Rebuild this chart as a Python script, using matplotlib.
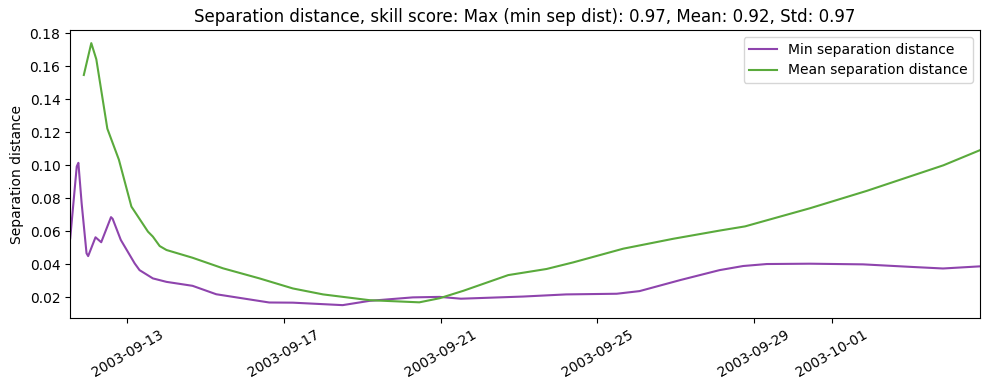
import pandas as pd
import numpy as np
import matplotlib
matplotlib.use("Agg")
import matplotlib.pyplot as plt
import matplotlib.dates as mdates

# min separation distance
min_times = [
    "2003-09-11 13:00", "2003-09-11 17:00", "2003-09-11 18:00", "2003-09-11 20:00",
    "2003-09-11 23:00", "2003-09-12 00:00", "2003-09-12 04:30", "2003-09-12 08:00",
    "2003-09-12 14:00", "2003-09-12 15:00", "2003-09-12 20:00", "2003-09-13 04:30",
    "2003-09-13 07:30", "2003-09-13 15:40", "2003-09-14 00:00", "2003-09-14 16:00",
    "2003-09-15 06:30", "2003-09-16 15:00", "2003-09-17 05:30", "2003-09-18 12:00",
    "2003-09-19 04:30", "2003-09-20 07:00", "2003-09-20 23:30", "2003-09-21 12:30",
    "2003-09-23 02:30", "2003-09-24 05:00", "2003-09-25 12:00", "2003-09-26 02:00",
    "2003-09-27 03:00", "2003-09-28 03:00", "2003-09-28 17:30", "2003-09-29 08:00",
    "2003-09-30 10:30", "2003-10-01 19:00", "2003-10-02 23:45", "2003-10-03 20:00",
    "2003-10-04 18:45",
]
min_sep = [
    0.0558, 0.0993, 0.1015, 0.0770,
    0.0467, 0.0450, 0.0564, 0.0534,
    0.0686, 0.0676, 0.0548, 0.0406,
    0.0365, 0.0315, 0.0294, 0.0270,
    0.0219, 0.0169, 0.0168, 0.0153,
    0.0179, 0.0200, 0.0203, 0.0192,
    0.0205, 0.0218, 0.0222, 0.0238,
    0.0305, 0.0365, 0.0390, 0.0402,
    0.0404, 0.0400, 0.0385, 0.0375,
    0.0388,
]

# mean separation distance
mean_times = [
    "2003-09-11 21:20", "2003-09-12 01:55", "2003-09-12 05:00", "2003-09-12 11:45",
    "2003-09-12 18:50", "2003-09-13 02:30", "2003-09-13 12:40", "2003-09-13 15:40",
    "2003-09-13 19:50", "2003-09-14 00:00", "2003-09-14 16:00", "2003-09-15 10:40",
    "2003-09-16 09:00", "2003-09-17 05:30", "2003-09-18 00:00", "2003-09-19 04:30",
    "2003-09-20 11:00", "2003-09-20 23:30", "2003-09-21 14:00", "2003-09-22 17:30",
    "2003-09-23 17:00", "2003-09-24 09:20", "2003-09-25 16:00", "2003-09-26 22:40",
    "2003-09-28 03:20", "2003-09-28 18:40", "2003-09-30 10:30", "2003-10-01 21:15",
    "2003-10-03 20:15", "2003-10-04 18:45",
]
mean_sep = [
    0.1547, 0.1740, 0.1642, 0.1222,
    0.1034, 0.0750, 0.0598, 0.0568,
    0.0511, 0.0487, 0.0440, 0.0376,
    0.0315, 0.0254, 0.0218, 0.0183,
    0.0170, 0.0195, 0.0240, 0.0335,
    0.0372, 0.0412, 0.0495, 0.0555,
    0.0605, 0.0630, 0.0740, 0.0845,
    0.1000, 0.1092,
]

t_min = pd.to_datetime(min_times)
t_mean = pd.to_datetime(mean_times)

fig, ax = plt.subplots(figsize=(9.89, 3.9), dpi=100)
ax.plot(t_min, min_sep, color="#8e44ad", label="Min separation distance")
ax.plot(t_mean, mean_sep, color="#5aaa3c", label="Mean separation distance")

ax.set_xlim(t_min[0], t_min[-1])
ax.xaxis.set_major_locator(mdates.DayLocator(bymonthday=range(1, 32, 4)))
ax.xaxis.set_major_formatter(mdates.DateFormatter("%Y-%m-%d"))
plt.setp(ax.get_xticklabels(), rotation=30)

ax.set_ylabel("Separation distance")
ax.set_title("Separation distance, skill score: Max (min sep dist): 0.97, Mean: 0.92, Std: 0.97")
ax.legend(loc="upper right")

fig.subplots_adjust(left=0.071, right=0.991, top=0.923, bottom=0.184)
plt.savefig("out.png")
